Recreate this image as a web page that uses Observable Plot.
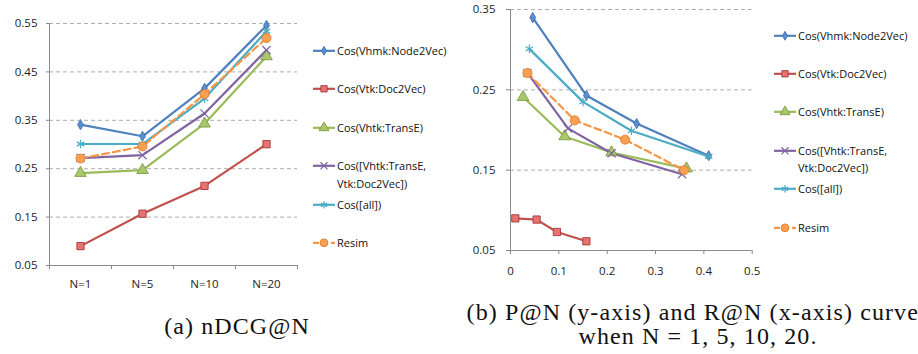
<!DOCTYPE html>
<html><head><meta charset="utf-8">
<script src="https://cdn.jsdelivr.net/npm/d3@7"></script>
<script src="https://cdn.jsdelivr.net/npm/@observablehq/plot@0.6"></script>
<style>
html,body{margin:0;padding:0;background:#fff;}
#wrap{position:relative;width:918px;height:354px;overflow:hidden;font-family:"Open Sans",sans-serif;}
.chart{position:absolute;top:0;}
.leg{position:absolute;font-size:11px;color:#111;line-height:17.6px;white-space:nowrap;}
.leg svg{position:absolute;left:0;top:0;}
.leg span{position:absolute;left:24px;top:0;}
.cap{position:absolute;font-family:"Liberation Serif",serif;font-size:24px;line-height:24px;letter-spacing:1.1px;white-space:nowrap;transform:translateX(-50%);text-align:center;color:#111;}
.chart [aria-label$="axis tick"] path{stroke:#888;}
.chart [aria-label$="axis"] .tick line{stroke:#888;}
</style></head><body><div id="wrap"></div>
<script>
// ---- data ----
const categories = ["N=1","N=5","N=10","N=20"];
const seriesNames = [
  ["Cos(Vhmk:Node2Vec)"],
  ["Cos(Vtk:Doc2Vec)"],
  ["Cos(Vhtk:TransE)"],
  ["Cos([Vhtk:TransE,","Vtk:Doc2Vec])"],
  ["Cos([all])"],
  ["Resim"]
];
// (a) nDCG@N
const ndcgNode2Vec = [0.341, 0.317, 0.416, 0.546];
const ndcgDoc2Vec  = [0.090, 0.157, 0.2145, 0.3006];
const ndcgTransE   = [0.241, 0.247, 0.343, 0.482];
const ndcgTransEDoc2Vec = [0.272, 0.278, 0.364, 0.495];
const ndcgAll      = [0.301, 0.301, 0.395, 0.534];
const ndcgResim    = [0.271, 0.296, 0.404, 0.520];
// (b) recall (x) and precision (y) at N = 1, 5, 10, 20
const recallNode2Vec    = [0.046, 0.157, 0.261, 0.410];
const precisionNode2Vec = [0.340, 0.243, 0.208, 0.168];
const recallDoc2Vec     = [0.010, 0.054, 0.096, 0.157];
const precisionDoc2Vec  = [0.090, 0.0885, 0.073, 0.0615];
const recallTransE      = [0.026, 0.112, 0.209, 0.364];
const precisionTransE   = [0.241, 0.192, 0.172, 0.152];
const recallTransEDoc2Vec    = [0.035, 0.119, 0.209, 0.355];
const precisionTransEDoc2Vec = [0.271, 0.202, 0.171, 0.145];
const recallAll         = [0.039, 0.150, 0.250, 0.410];
const precisionAll      = [0.301, 0.235, 0.199, 0.167];
const recallResim       = [0.035, 0.133, 0.237, 0.359];
const precisionResim    = [0.271, 0.212, 0.188, 0.150];
// ticks
const yTicksA = [0.05, 0.15, 0.25, 0.35, 0.45, 0.55];
const yTicksB = [0.05, 0.15, 0.25, 0.35];
const xTicksB = [0, 0.1, 0.2, 0.3, 0.4, 0.5];
const captionA = "(a) nDCG@N";
const captionB = ["(b) P@N (y-axis) and R@N (x-axis) curves", "when N = 1, 5, 10, 20."];

// ---- styles ----
const styles = [
  {color:"#4F81BD", symbol:"diamond",  r:3.1, fill:"#5B8ED0", mstroke:"#3A6AA5", sw:0.8},
  {color:"#C0504D", symbol:"square",   r:4.1, fill:"#E8726F", mstroke:"#A23A37", sw:0.9},
  {color:"#9BBB59", symbol:"triangle", r:4.3, fill:"#A9C86C", mstroke:"#7E9B44", sw:0.9},
  {color:"#8064A2", symbol:"times",    r:3.8, fill:"none",    mstroke:"#8064A2", sw:1.2},
  {color:"#4BACC6", symbol:"asterisk", r:4.0, fill:"none",    mstroke:"#4BACC6", sw:1.2},
  {color:"#F79646", symbol:"circle",   r:4.5, fill:"#F9A052", mstroke:"#E07B28", sw:0.9, dash:"7,4"}
];
const ndcg = [ndcgNode2Vec, ndcgDoc2Vec, ndcgTransE, ndcgTransEDoc2Vec, ndcgAll, ndcgResim];
const recall = [recallNode2Vec, recallDoc2Vec, recallTransE, recallTransEDoc2Vec, recallAll, recallResim];
const precision = [precisionNode2Vec, precisionDoc2Vec, precisionTransE, precisionTransEDoc2Vec, precisionAll, precisionResim];

const font = '"Open Sans", sans-serif';
const gridStroke = "#ADADAD";
const axisStroke = "#8C8C8C";

function seriesMarks(rows, xk, yk) {
  const marks = [];
  styles.forEach((st, k) => {
    const d = rows.filter(r => r.s === k);
    marks.push(Plot.line(d, {x: xk, y: yk, stroke: st.color, strokeWidth: 2.2, strokeDasharray: st.dash || null, strokeLinejoin: "round"}));
  });
  styles.forEach((st, k) => {
    const d = rows.filter(r => r.s === k);
    marks.push(Plot.dot(d, {x: xk, y: yk, symbol: st.symbol, r: st.r, fill: st.fill, stroke: st.mstroke, strokeWidth: st.sw}));
  });
  return marks;
}

const wrap = document.getElementById("wrap");

// ---- chart (a) ----
const rowsA = ndcg.flatMap((vals, k) => vals.map((v, i) => ({s: k, i, v})));
const boundaries = d3.range(categories.length + 1).map(b => b - 0.5);
const chartA = Plot.plot({
  width: 310, height: 290,
  marginLeft: 49, marginRight: 13, marginTop: 23, marginBottom: 25,
  style: {fontFamily: font, fontSize: "11.5px", color: "#222", background: "transparent", overflow: "visible"},
  x: {domain: [-0.5, categories.length - 0.5], ticks: boundaries, tickFormat: () => "", tickSize: 4, label: null},
  y: {domain: [0.05, 0.55], ticks: yTicksA, tickFormat: d3.format(".2f"), tickSize: 3, tickPadding: 9, label: null},
  marks: [
    Plot.ruleY(yTicksA.slice(1), {stroke: gridStroke, strokeDasharray: "4,3"}),
    Plot.ruleX([-0.5], {stroke: axisStroke}),
    Plot.ruleY([0.05], {stroke: axisStroke}),
    ...seriesMarks(rowsA, "i", "v"),
    Plot.text(categories, {x: (d, i) => i, y: 0.05, text: d => d, dy: 18.7, fill: "#222", fontSize: 11.5})
  ]
});
chartA.classList.add("chart");
chartA.style.left = "0px";
wrap.appendChild(chartA);

// ---- chart (b) ----
const rowsB = recall.flatMap((vals, k) => vals.map((x, i) => ({s: k, x, y: precision[k][i]})));
const chartB = Plot.plot({
  width: 310, height: 290,
  marginLeft: 50, marginRight: 18.3, marginTop: 9, marginBottom: 40,
  style: {fontFamily: font, fontSize: "11.5px", color: "#222", background: "transparent", overflow: "visible"},
  x: {domain: [0, 0.5], ticks: xTicksB, tickFormat: d => d3.format("")(d), tickSize: 4, tickPadding: 12, label: null},
  y: {domain: [0.05, 0.35], ticks: yTicksB, tickFormat: d3.format(".2f"), tickSize: 4, tickPadding: 11, label: null},
  marks: [
    Plot.ruleY(yTicksB.slice(1), {stroke: gridStroke, strokeDasharray: "4,3"}),
    Plot.ruleX([0], {stroke: axisStroke}),
    Plot.ruleY([0.05], {stroke: axisStroke}),
    ...seriesMarks(rowsB, "x", "y")
  ]
});
chartB.classList.add("chart");
chartB.style.left = "460px";
wrap.appendChild(chartB);

// ---- legends ----
function legend(left, top0, step) {
  styles.forEach((st, k) => {
    const div = document.createElement("div");
    div.className = "leg";
    div.style.left = left + "px";
    div.style.top = (top0 + k * step - 8.8) + "px";
    const svg = d3.create("svg").attr("width", 24).attr("height", 18);
    svg.append("line").attr("x1", 0).attr("x2", 22).attr("y1", 8.8).attr("y2", 8.8)
      .attr("stroke", st.color).attr("stroke-width", 2.2).attr("stroke-dasharray", st.dash ? "6,3" : null);
    const symMap = {diamond: d3.symbolDiamond, square: d3.symbolSquare, triangle: d3.symbolTriangle, times: d3.symbolTimes, asterisk: d3.symbolAsterisk, circle: d3.symbolCircle};
    svg.append("path").attr("transform", "translate(11,8.8)")
      .attr("d", d3.symbol(symMap[st.symbol], Math.PI * st.r * st.r * 0.75)())
      .attr("fill", st.fill).attr("stroke", st.mstroke).attr("stroke-width", st.sw);
    div.appendChild(svg.node());
    const span = document.createElement("span");
    span.innerHTML = seriesNames[k].join("<br>");
    div.appendChild(span);
    wrap.appendChild(div);
  });
}
legend(313, 50.3, 38.5);
legend(774, 35.3, 38.4);

// ---- captions ----
const capA = document.createElement("div");
capA.className = "cap"; capA.style.left = "237px"; capA.style.top = "314px";
capA.textContent = captionA;
wrap.appendChild(capA);
const capB = document.createElement("div");
capB.className = "cap"; capB.style.left = "698px"; capB.style.top = "300px";
capB.innerHTML = captionB.join("<br>");
wrap.appendChild(capB);
</script>
</body></html>
